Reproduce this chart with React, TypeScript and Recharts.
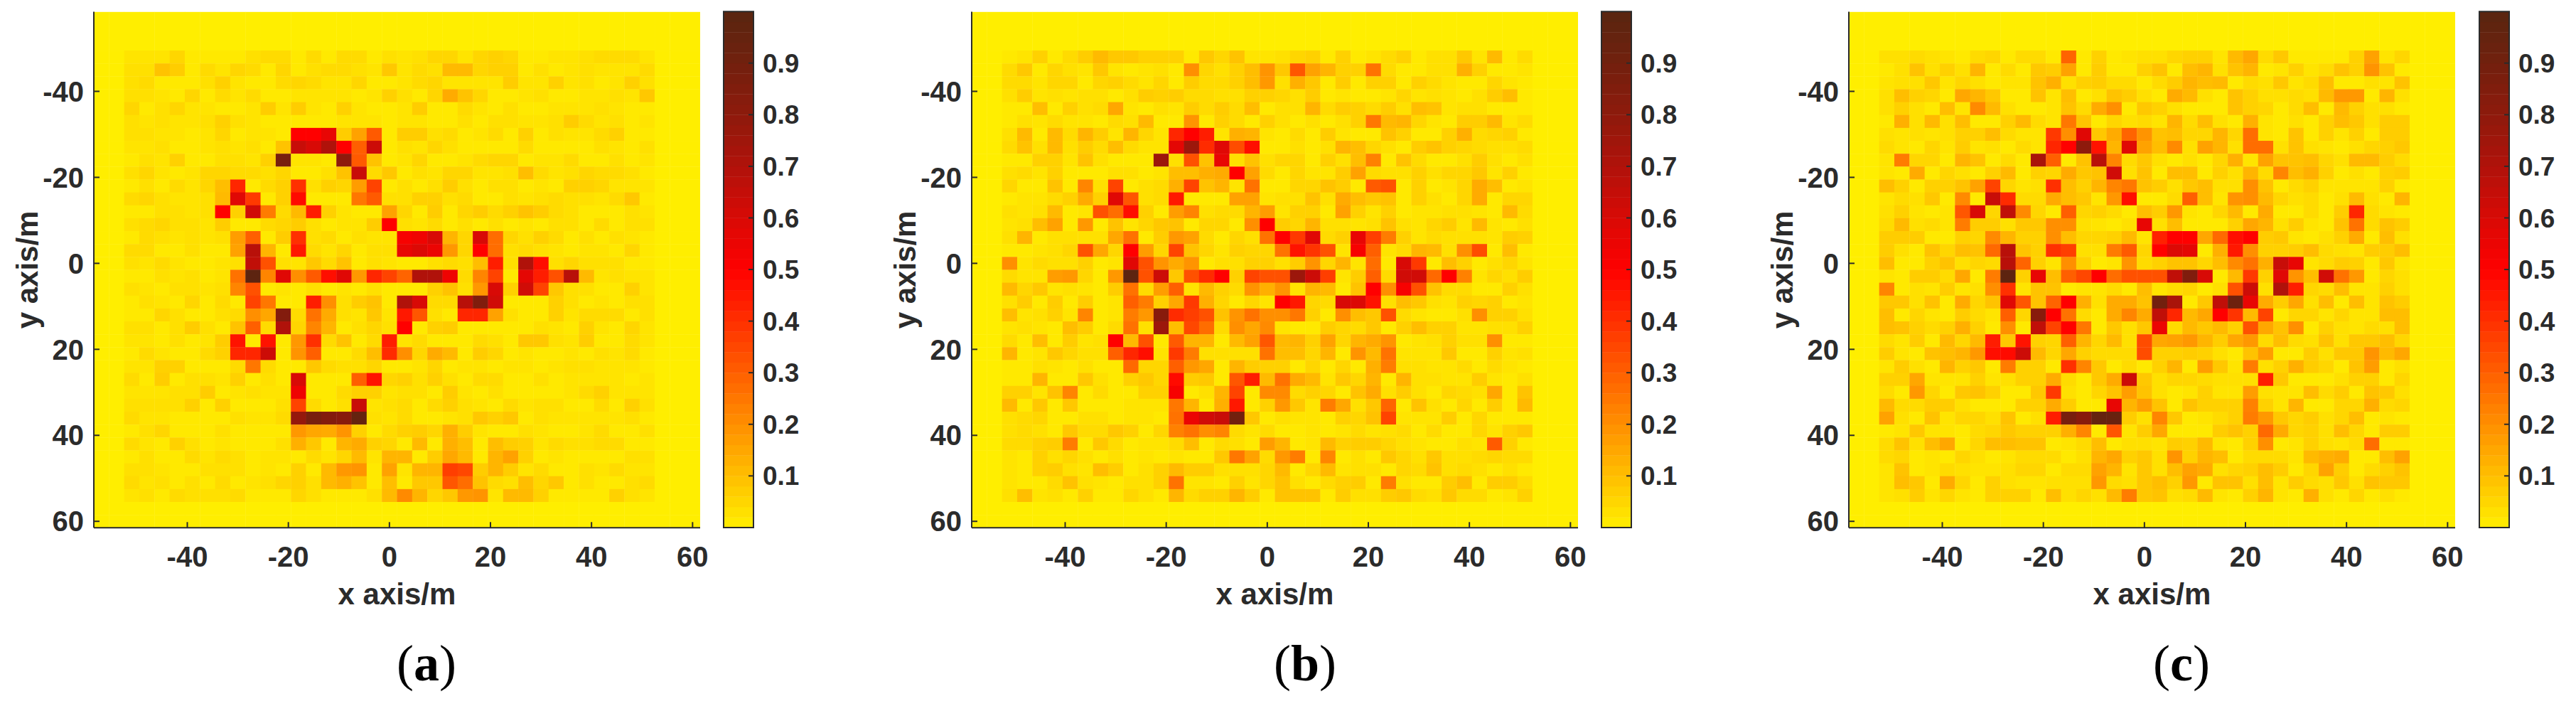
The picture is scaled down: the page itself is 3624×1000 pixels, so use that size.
import React from 'react';
import { ScatterChart, Scatter, XAxis, YAxis, ReferenceArea } from 'recharts';

const xTicks = [-40, -20, 0, 20, 40, 60];
const yTicks = [-40, -20, 0, 20, 40, 60];
const barTicks = [0.1, 0.2, 0.3, 0.4, 0.5, 0.6, 0.7, 0.8, 0.9];
const gridSize = 40; // 3 m cells, only the inner 35x35 carry values

// steps of the colorbar
const barLevels = [
  0.01, 0.03, 0.05, 0.07, 0.09, 0.11, 0.13, 0.15, 0.17, 0.19,
  0.21, 0.23, 0.25, 0.27, 0.29, 0.31, 0.33, 0.35, 0.37, 0.39,
  0.41, 0.43, 0.45, 0.47, 0.49, 0.51, 0.53, 0.55, 0.57, 0.59,
  0.61, 0.63, 0.65, 0.67, 0.69, 0.71, 0.73, 0.75, 0.77, 0.79,
  0.81, 0.83, 0.85, 0.87, 0.89, 0.91, 0.93, 0.95, 0.97, 0.99,
];

const panelA = [
  [2,2,2,5,1,1,1,1,3,4,4,1,4,1,4,4,1,3,2,3,5,5,2,5,6,5,1,1,2,2,3,4,4,4,2],
  [3,3,9,7,1,4,2,5,4,1,5,1,3,4,4,3,2,8,2,4,3,11,11,5,6,6,1,3,1,2,3,2,2,2,4],
  [3,4,1,1,1,3,6,2,1,1,4,5,4,2,2,5,1,1,2,4,5,2,2,2,2,7,2,2,6,2,3,1,2,6,3],
  [3,3,2,1,5,1,4,2,4,1,1,2,2,2,2,1,2,6,3,1,5,14,9,5,1,1,2,3,1,1,2,2,3,2,8],
  [5,1,3,5,2,2,1,1,2,7,2,7,2,1,6,2,1,1,2,7,1,1,4,2,1,3,1,1,2,2,2,3,2,1,1],
  [3,2,3,2,2,3,6,3,2,1,1,1,1,1,2,2,2,1,2,2,1,1,3,1,3,3,2,2,3,7,4,2,3,1,2],
  [3,3,2,2,1,2,5,1,2,2,1,50,50,56,7,16,31,1,7,7,3,4,1,2,4,1,6,1,3,2,2,4,6,1,1],
  [2,2,3,1,1,2,3,2,3,1,9,64,60,70,50,30,63,1,3,2,5,3,1,1,1,1,4,1,1,1,1,3,2,1,3],
  [1,3,2,6,1,1,3,3,2,6,88,2,2,1,80,31,9,1,2,5,1,1,2,4,5,5,1,2,2,4,1,1,3,1,2],
  [3,5,2,1,2,5,5,4,4,3,5,1,1,3,9,64,4,8,1,3,2,5,5,2,2,3,10,4,2,3,5,4,4,3,1],
  [1,3,1,4,2,5,10,42,1,4,6,40,3,6,5,17,36,1,3,1,3,7,3,1,3,3,1,2,1,6,6,5,2,2,2],
  [4,5,3,2,2,3,11,58,38,1,6,48,1,1,1,25,31,3,3,6,6,3,4,1,1,3,2,3,4,3,3,2,4,8,1],
  [1,1,3,3,2,3,50,6,62,24,4,11,44,6,2,1,1,16,5,1,7,1,5,7,4,6,9,7,4,3,1,1,1,3,2],
  [3,4,5,3,3,2,7,1,1,4,5,7,3,1,2,2,7,50,3,2,4,1,3,1,3,1,2,1,3,3,1,4,1,3,3],
  [1,4,3,2,3,2,3,17,30,1,7,40,3,4,1,3,2,2,52,54,60,12,5,60,27,5,3,6,4,1,3,1,3,2,1],
  [4,4,1,1,3,1,1,16,68,12,1,45,4,2,5,1,3,3,56,59,55,18,5,50,27,3,4,3,2,1,2,2,1,5,1],
  [3,2,4,2,1,1,2,3,66,33,3,2,8,4,9,1,3,2,1,1,3,4,3,10,44,3,70,47,3,5,3,3,3,1,1],
  [1,1,3,2,3,1,2,26,98,22,58,20,31,47,58,18,42,36,29,70,70,54,4,22,36,1,57,44,33,68,11,2,3,2,2],
  [3,2,1,3,3,2,3,22,33,1,2,1,3,1,2,1,3,1,1,1,6,9,3,18,60,6,62,36,8,3,3,1,1,6,2],
  [1,3,2,1,5,1,4,1,36,25,1,1,44,20,3,7,9,1,70,60,4,4,68,85,62,1,1,1,6,3,1,2,1,3,3],
  [1,1,5,3,1,1,3,4,20,15,84,4,26,14,3,2,8,2,45,32,3,1,42,42,16,3,1,1,6,2,4,4,4,1,3],
  [3,3,1,3,7,3,1,9,30,4,70,5,22,12,1,3,5,3,50,1,6,7,1,1,1,1,1,3,2,1,6,2,1,5,2],
  [2,2,1,3,1,2,7,46,1,46,1,18,40,4,9,1,4,44,2,4,1,1,1,4,3,1,8,8,3,2,7,1,1,4,2],
  [1,4,2,1,1,4,6,42,42,63,1,19,30,1,1,4,10,41,20,5,14,11,1,7,5,1,2,1,1,2,1,3,2,4,1],
  [2,2,6,6,1,1,1,4,25,4,1,1,8,4,3,3,5,1,1,2,5,1,2,2,1,2,2,1,2,3,3,2,2,2,1],
  [4,1,7,1,3,3,2,6,1,3,1,60,1,1,1,30,46,5,6,3,6,3,1,4,4,1,1,3,1,2,2,2,2,1,2],
  [2,2,2,3,3,7,1,2,3,2,2,54,1,1,4,6,6,2,3,3,1,7,2,1,3,1,1,1,1,2,4,6,2,2,2],
  [3,3,3,3,6,1,6,1,1,1,3,36,4,1,3,64,2,3,4,1,4,6,3,2,1,4,2,3,3,1,1,4,1,6,3],
  [4,2,2,1,1,1,1,3,2,2,4,78,88,84,82,95,3,2,4,1,1,2,3,8,6,8,1,3,2,2,2,2,2,3,1],
  [1,3,5,1,1,1,3,1,1,1,1,18,15,14,19,6,1,4,6,7,5,13,7,2,1,1,3,2,1,1,2,4,1,1,3],
  [4,2,1,6,3,1,2,1,1,1,3,13,8,1,12,14,6,5,1,11,1,13,10,1,10,7,6,2,4,3,3,4,4,1,1],
  [1,3,1,1,4,2,4,3,1,2,2,1,4,2,5,11,2,12,12,1,7,15,11,1,12,16,6,1,2,1,1,1,1,3,3],
  [3,3,2,1,1,3,3,3,1,2,1,6,1,11,18,19,1,16,2,12,12,37,35,7,12,7,2,4,1,1,3,2,4,2,2],
  [4,2,3,1,3,1,4,1,2,3,5,6,3,11,13,9,1,10,1,8,8,32,27,9,4,3,10,5,8,1,3,1,1,3,4],
  [2,3,1,4,3,3,3,4,1,1,1,5,3,1,1,1,3,11,21,12,5,8,18,19,2,11,11,6,1,1,1,1,6,3,2],
];

const panelB = [
  [1,2,6,1,4,7,11,8,8,6,6,6,1,8,5,9,2,2,3,5,6,1,6,1,2,4,6,1,3,3,8,2,11,1,4],
  [4,8,1,5,3,2,8,2,1,2,3,1,20,5,3,6,10,19,8,32,16,12,6,6,26,4,1,1,3,3,13,6,1,1,2],
  [4,4,2,5,5,1,5,6,4,2,5,1,7,4,4,6,10,18,3,13,8,1,7,1,6,6,1,6,4,2,1,1,5,2,1],
  [3,7,2,3,2,3,3,1,3,7,6,7,4,4,3,3,6,6,5,3,7,1,2,1,1,2,5,2,3,2,1,3,7,10,1],
  [1,1,10,1,6,3,4,15,2,1,3,2,7,4,7,4,10,1,3,3,12,4,7,6,4,7,3,10,9,2,3,3,1,1,1],
  [1,3,2,4,2,2,1,4,3,11,1,1,19,1,6,4,1,6,3,1,3,1,3,6,25,11,12,5,2,1,7,7,11,2,4],
  [3,11,1,11,4,12,7,2,12,5,2,42,50,44,2,13,12,2,1,4,1,7,2,1,1,9,6,1,1,6,13,4,5,6,1],
  [4,9,3,11,3,7,4,10,4,2,2,57,76,41,58,34,47,1,1,3,1,3,12,10,5,3,1,7,9,6,5,4,3,3,4],
  [1,1,6,6,2,9,3,1,1,1,76,3,33,9,56,3,9,3,5,5,1,6,3,10,23,1,9,4,1,1,3,7,3,1,3],
  [3,4,2,6,1,1,1,3,3,1,2,10,10,13,14,50,16,4,1,5,2,2,7,16,4,3,3,6,3,5,5,8,2,6,1],
  [5,1,1,9,1,22,3,36,1,3,4,13,36,9,12,2,26,1,1,5,5,9,7,1,31,33,1,6,1,2,5,14,10,1,2],
  [1,2,2,4,6,14,6,58,32,3,4,45,1,1,1,16,16,2,3,3,9,3,14,10,8,9,1,6,3,1,5,14,1,5,5],
  [3,2,3,11,1,2,33,27,47,6,1,17,22,3,4,4,12,17,2,6,6,1,16,6,2,6,1,2,2,3,3,2,1,11,4],
  [2,3,10,16,1,18,1,9,2,5,8,9,1,5,5,1,20,50,7,5,12,3,3,2,3,9,3,2,5,7,2,11,2,1,3],
  [3,12,1,3,3,3,3,15,26,1,7,18,16,4,1,5,3,26,50,38,58,4,6,56,37,24,6,2,4,3,3,3,2,7,6],
  [1,1,2,3,5,33,15,5,50,17,5,36,9,5,2,6,5,5,26,46,39,33,2,52,30,2,4,12,11,3,20,34,1,10,1],
  [20,2,4,3,3,6,1,2,58,33,19,14,19,1,3,3,6,6,3,7,19,5,12,2,27,1,60,38,1,10,6,1,3,5,2],
  [4,2,2,17,18,5,1,18,98,33,63,8,33,41,50,6,36,33,33,76,63,37,2,7,30,4,62,62,28,50,23,2,5,3,7],
  [11,5,8,2,3,2,1,7,26,4,17,30,2,11,6,4,19,13,19,2,12,11,1,9,50,20,52,33,9,4,4,1,1,6,3],
  [3,7,1,7,1,7,1,2,30,24,6,15,38,13,5,1,5,2,50,45,5,4,60,59,46,3,10,8,3,2,6,5,6,1,2],
  [10,2,3,6,2,22,1,2,24,18,82,41,37,33,9,19,26,20,20,25,6,1,20,10,8,33,4,2,1,1,3,20,6,6,3],
  [2,3,2,1,10,7,1,4,26,3,76,10,35,27,4,20,15,21,2,1,1,7,5,4,8,1,6,10,6,6,2,2,3,3,6],
  [4,1,10,1,7,2,3,50,11,33,1,31,12,12,1,11,16,32,11,12,6,16,5,12,14,19,1,2,3,6,3,3,20,1,1],
  [12,1,2,8,5,3,3,30,42,47,2,38,24,3,3,3,3,26,10,10,5,12,1,19,11,26,2,2,2,8,1,1,6,2,3],
  [1,1,3,2,1,3,1,1,28,5,5,30,18,15,1,12,7,6,6,1,5,1,5,1,13,24,3,3,2,2,4,1,4,2,1],
  [1,1,12,1,1,8,3,1,6,8,5,48,7,8,1,32,44,11,26,14,11,2,8,5,12,1,12,3,3,2,2,7,2,1,3],
  [6,6,2,9,22,1,4,1,1,6,6,52,1,3,12,36,1,21,21,4,6,5,1,9,14,3,7,3,1,5,4,3,15,1,9],
  [11,1,8,1,8,1,1,1,2,2,2,25,12,1,13,45,1,6,18,8,2,24,15,3,8,29,1,9,3,1,5,1,7,1,11],
  [3,4,5,1,1,3,3,1,2,2,1,26,55,62,64,90,8,1,3,2,2,1,6,5,9,36,2,2,2,7,1,5,1,1,1],
  [3,4,3,1,8,4,4,8,6,1,5,23,26,20,22,4,2,4,1,1,2,1,2,4,2,3,4,1,4,1,1,5,2,6,8],
  [4,4,6,7,24,1,8,4,1,2,2,4,10,1,4,3,1,17,12,1,2,11,6,7,7,5,3,2,1,1,3,2,31,6,1],
  [2,1,6,3,5,3,1,3,1,2,1,2,1,1,8,25,16,4,18,24,1,22,1,3,1,8,5,3,8,3,3,4,5,4,4],
  [2,1,6,7,3,2,10,7,1,3,6,11,7,7,3,3,3,5,11,1,5,11,2,3,3,1,5,4,9,3,4,3,1,3,1],
  [2,1,1,4,9,3,2,1,3,3,6,26,2,2,1,6,2,5,9,3,1,4,6,7,1,24,3,1,1,7,10,1,7,7,4],
  [3,10,2,3,1,6,1,1,5,3,1,12,4,6,6,12,7,1,9,9,9,1,7,3,3,7,8,4,3,8,4,4,1,2,6],
];

const panelC = [
  [3,3,4,3,2,1,4,5,1,4,4,1,29,1,6,1,2,3,3,5,6,6,2,11,15,4,8,1,1,1,1,6,16,2,5],
  [1,3,9,3,6,3,12,1,4,1,8,7,16,1,7,1,1,6,9,1,10,12,3,9,12,1,2,6,2,4,9,6,19,9,1],
  [2,3,3,8,2,5,3,1,2,2,9,13,3,6,7,4,4,1,4,7,12,10,11,1,4,3,8,2,4,10,1,1,3,2,9],
  [3,10,6,5,1,15,12,8,1,1,9,2,10,1,3,9,7,3,1,14,11,3,1,9,6,3,3,4,3,11,18,18,1,12,3],
  [3,6,3,1,10,2,21,11,3,1,1,2,9,4,14,20,1,8,6,3,1,1,1,9,6,5,1,4,10,1,11,6,3,3,1],
  [1,13,3,11,3,10,1,1,6,11,4,2,25,9,1,5,3,4,2,12,4,10,3,1,13,2,1,3,1,6,10,8,3,7,7],
  [3,2,3,2,3,6,6,10,4,2,2,38,20,58,8,14,29,19,9,10,5,5,12,5,27,2,1,9,1,6,2,6,1,7,7],
  [4,2,1,5,2,7,2,3,1,4,2,42,50,80,46,12,58,16,10,21,3,16,12,3,27,27,3,9,3,2,1,3,5,6,8],
  [2,24,5,5,1,12,9,1,4,1,72,30,1,9,68,22,4,8,3,1,3,1,5,13,2,16,9,9,10,5,3,11,11,7,4],
  [2,1,14,1,5,3,1,6,11,1,6,5,14,8,9,62,3,9,1,10,10,1,6,3,12,4,22,10,13,6,1,3,1,6,7],
  [10,6,1,6,6,9,16,36,5,2,3,40,10,6,12,22,25,9,7,3,8,10,3,3,20,9,1,4,6,2,2,2,2,6,1],
  [2,4,3,8,1,21,1,64,41,4,4,14,10,8,2,18,47,1,1,4,30,10,2,19,20,11,5,3,4,1,3,11,3,1,12],
  [3,6,2,1,2,32,60,5,66,21,5,1,30,5,6,4,1,10,7,18,2,1,5,11,1,14,1,1,4,1,7,42,4,2,1],
  [4,11,3,4,2,24,7,7,3,8,8,20,20,3,2,1,3,56,3,10,1,1,1,6,15,12,3,7,2,1,9,26,4,9,7],
  [7,7,7,1,1,6,5,21,12,6,6,20,10,5,5,6,11,2,43,50,50,15,28,47,50,7,8,2,1,3,6,14,1,10,3],
  [7,3,1,9,5,10,9,28,68,9,6,40,37,3,3,24,31,5,50,59,57,1,13,45,20,6,6,7,10,4,3,2,7,7,10],
  [10,1,1,6,9,3,5,4,68,29,6,2,20,6,1,2,19,4,6,9,9,5,10,21,26,13,64,56,2,4,7,6,1,8,2],
  [2,1,7,7,4,15,1,24,98,6,56,10,30,35,50,27,33,33,33,66,85,60,1,11,38,6,58,19,10,62,26,18,1,5,3],
  [22,1,3,2,7,2,3,20,40,2,9,9,1,2,2,4,1,10,2,4,5,1,3,33,63,3,70,44,5,4,10,2,2,6,3],
  [8,8,3,9,1,14,5,9,58,32,9,29,50,13,3,14,14,9,90,72,1,8,66,92,56,14,7,15,3,10,1,10,2,9,7],
  [10,1,5,2,1,7,4,2,30,5,82,50,26,4,1,14,22,14,66,42,11,15,50,39,11,36,1,5,5,2,5,2,2,10,10],
  [10,9,6,4,6,13,6,1,20,1,66,36,50,25,1,8,3,8,55,4,11,8,11,6,33,15,9,20,1,6,3,2,4,3,10],
  [4,2,7,1,11,5,11,44,8,46,6,5,30,12,5,11,3,34,15,16,18,12,7,15,18,4,10,4,3,9,3,8,8,10,5],
  [7,2,1,9,10,12,18,47,48,63,11,5,15,6,4,4,4,34,6,6,7,6,3,1,9,17,1,1,7,3,8,8,19,11,15],
  [2,7,3,1,12,6,8,1,24,6,6,1,40,22,8,1,4,1,6,12,1,17,8,2,24,3,6,13,7,5,1,9,17,1,3],
  [6,6,15,2,2,2,6,2,3,6,6,14,4,1,8,14,63,8,3,5,5,4,3,3,3,44,8,1,1,1,3,6,6,1,5],
  [4,1,18,5,1,8,9,6,1,1,8,38,3,1,5,9,17,9,3,1,2,6,2,2,17,3,2,2,10,4,7,1,9,8,3],
  [11,4,4,7,7,3,1,1,1,6,6,14,7,1,1,56,12,17,9,1,9,6,6,6,23,6,2,12,1,1,5,5,13,4,5],
  [16,3,1,9,2,5,5,3,9,1,3,44,88,82,95,94,7,3,22,8,1,2,4,6,24,18,8,5,7,3,5,10,1,2,1],
  [1,2,8,2,2,1,4,5,8,6,6,6,13,22,1,32,2,7,15,1,1,1,7,9,6,28,14,5,6,3,10,5,1,7,7],
  [4,9,3,10,15,1,5,10,10,9,9,1,2,4,10,1,3,3,2,7,6,11,2,1,6,20,1,2,6,3,2,4,27,1,1],
  [4,5,1,2,1,5,3,1,2,4,4,4,1,3,12,15,6,8,3,19,6,12,10,1,4,4,4,2,11,13,14,1,1,10,16],
  [2,9,1,2,4,3,2,2,3,5,5,1,4,4,16,12,2,8,3,10,16,14,3,5,6,10,7,1,5,16,7,1,4,6,9],
  [2,10,8,1,14,5,1,6,3,2,2,3,3,3,18,4,3,8,10,6,18,1,9,9,3,10,2,7,4,3,8,3,9,8,8],
  [2,3,7,2,5,2,1,6,6,6,1,10,3,5,3,11,24,8,9,3,4,11,2,1,6,12,2,1,13,3,1,5,1,3,1],
];

const INK = '#2b2b2b';
const SANS = '"Liberation Sans", Arial, sans-serif';

// MATLAB "hot"-like ramp: yellow to red at 0.5, then down to dark brown
const rampStops = [
  { at: 0, color: '#ffee00' },
  { at: 0.5, color: '#ff0000' },
  { at: 0.6, color: '#d80a06' },
  { at: 0.7, color: '#b0120a' },
  { at: 0.8, color: '#8e1a0c' },
  { at: 0.9, color: '#72200e' },
  { at: 1, color: '#582510' },
];

function hex(c: string) {
  return [1, 3, 5].map(i => parseInt(c.slice(i, i + 2), 16));
}

function colorFor(v: number) {
  for (let i = 1; i < rampStops.length; i++) {
    const a = rampStops[i - 1];
    const b = rampStops[i];
    if (v <= b.at) {
      const t = (v - a.at) / (b.at - a.at);
      const ca = hex(a.color);
      const cb = hex(b.color);
      const m = ca.map((x, k) => Math.round(x + (cb[k] - x) * t));
      return `rgb(${m[0]},${m[1]},${m[2]})`;
    }
  }
  return rampStops[rampStops.length - 1].color;
}

// expand to the full 40x40 image, the border cells are zero
function toCells(rows: number[][]) {
  const cells: { x: number; y: number; v: number }[] = [];
  for (let r = 0; r < gridSize; r++) {
    for (let c = 0; c < gridSize; c++) {
      const v = rows[r - 3]?.[c - 2] ?? 0;
      cells.push({ x: -57 + c * 3, y: -57 + r * 3, v: v / 100 });
    }
  }
  return cells;
}

const PLOT_W = 853;
const PLOT_H = 725.7;
const CELL_W = PLOT_W / gridSize;
const CELL_H = PLOT_H / gridSize;
const BAR_W = 42;
const BAR_STEP = PLOT_H / barLevels.length;

function CellShape(props: any) {
  const { cx, cy, payload } = props;
  return (
    <rect
      x={cx - CELL_W / 2}
      y={cy - CELL_H / 2}
      width={CELL_W + 0.4}
      height={CELL_H + 0.4}
      fill={colorFor(payload.v)}
    />
  );
}

function BarStep(props: any) {
  const { cx, cy, payload } = props;
  return (
    <rect
      x={cx - BAR_W / 2}
      y={cy - BAR_STEP / 2}
      width={BAR_W}
      height={BAR_STEP + 0.4}
      fill={colorFor(payload.y)}
    />
  );
}

const NoDot = () => null;

const tickStyle = { fontSize: 40, fontWeight: 700, fontFamily: SANS, fill: INK };
const axisLine = { stroke: INK, strokeWidth: 2 };
const tickLine = { stroke: INK, strokeWidth: 2 };
const labelStyle = { fontSize: 42, fontWeight: 700, fontFamily: SANS, fill: INK };

function Heatmap({ rows, left }: { rows: number[][]; left: number }) {
  const data = toCells(rows);
  // the frame axes only need a series to attach to, it draws nothing
  const frameData = xTicks.map(t => ({ x: t, y: t }));
  return (
    <div style={{ position: 'absolute', left: left - 132, top: 0 }}>
      <ScatterChart
        width={1030}
        height={870}
        margin={{ top: 16.6, right: 45, bottom: 0, left: 22 }}
      >
        <Scatter data={data} dataKey="v" shape={CellShape} isAnimationActive={false} zIndex={100} />
        <Scatter data={frameData} xAxisId="top" yAxisId="right" shape={NoDot} isAnimationActive={false} zIndex={100} />
        <XAxis
          type="number"
          dataKey="x"
          domain={[-58.5, 61.5]}
          ticks={xTicks}
          height={127.7}
          tickSize={-8}
          tickMargin={34}
          tick={tickStyle}
          axisLine={axisLine}
          tickLine={tickLine}
          interval={0}
          allowDataOverflow
          label={{ value: 'x axis/m', position: 'insideBottom', offset: 20, style: labelStyle }}
        />
        <XAxis
          xAxisId="top"
          orientation="top"
          type="number"
          dataKey="x"
          domain={[-58.5, 61.5]}
          ticks={xTicks}
          height={0}
          tickSize={-8}
          tick={false}
          axisLine={axisLine}
          tickLine={tickLine}
          interval={0}
          allowDataOverflow
        />
        <YAxis
          type="number"
          dataKey="y"
          reversed
          domain={[-58.5, 61.5]}
          ticks={yTicks}
          width={110}
          tickSize={-8}
          tickMargin={22}
          tick={tickStyle}
          axisLine={axisLine}
          tickLine={tickLine}
          interval={0}
          allowDataOverflow
          label={{ value: 'y axis/m', angle: -90, position: 'insideLeft', offset: 16, style: { ...labelStyle, textAnchor: 'middle' } }}
        />
        <YAxis
          yAxisId="right"
          orientation="right"
          type="number"
          dataKey="y"
          reversed
          domain={[-58.5, 61.5]}
          ticks={yTicks}
          width={0}
          tickSize={-8}
          tick={false}
          axisLine={axisLine}
          tickLine={tickLine}
          interval={0}
          allowDataOverflow
        />
      </ScatterChart>
    </div>
  );
}

function ColorBar({ left }: { left: number }) {
  const steps = barLevels.map(y => ({ x: 0.5, y }));
  return (
    <div style={{ position: 'absolute', left, top: 0 }}>
      <ScatterChart width={140} height={760} margin={{ top: 16.2, right: 0, bottom: 18.1, left: 2 }}>
        <Scatter data={steps} shape={BarStep} isAnimationActive={false} zIndex={100} />
        <XAxis type="number" dataKey="x" domain={[0, 1]} hide />
        <ReferenceArea
          x1={0}
          x2={1}
          y1={0}
          y2={1}
          fill="none"
          stroke={INK}
          strokeWidth={2}
          zIndex={200}
        />
        <YAxis
          orientation="right"
          type="number"
          dataKey="y"
          domain={[0, 1]}
          ticks={barTicks}
          width={96}
          tickSize={-7}
          tickMargin={20}
          tick={{ ...tickStyle, fontSize: 37 }}
          axisLine={false}
          tickLine={tickLine}
          interval={0}
          tickFormatter={(v: number) => v.toFixed(1)}
        />
      </ScatterChart>
    </div>
  );
}

function PanelLabel({ center, letter }: { center: number; letter: string }) {
  return (
    <div
      style={{
        position: 'absolute',
        left: center - 100,
        top: 888,
        width: 200,
        textAlign: 'center',
        fontFamily: '"Liberation Serif", serif',
        fontSize: 72,
        lineHeight: '90px',
        color: '#000',
      }}
    >
      (<b>{letter}</b>)
    </div>
  );
}

export default function App() {
  return (
    <div style={{ position: 'absolute', left: 0, top: 0, width: 3624, height: 1000, background: '#fff' }}>
      <Heatmap rows={panelA} left={132} />
      <ColorBar left={1016} />
      <PanelLabel center={600} letter="a" />
      <Heatmap rows={panelB} left={1366.5} />
      <ColorBar left={2251} />
      <PanelLabel center={1836} letter="b" />
      <Heatmap rows={panelC} left={2601} />
      <ColorBar left={3485.6} />
      <PanelLabel center={3069} letter="c" />
    </div>
  );
}
